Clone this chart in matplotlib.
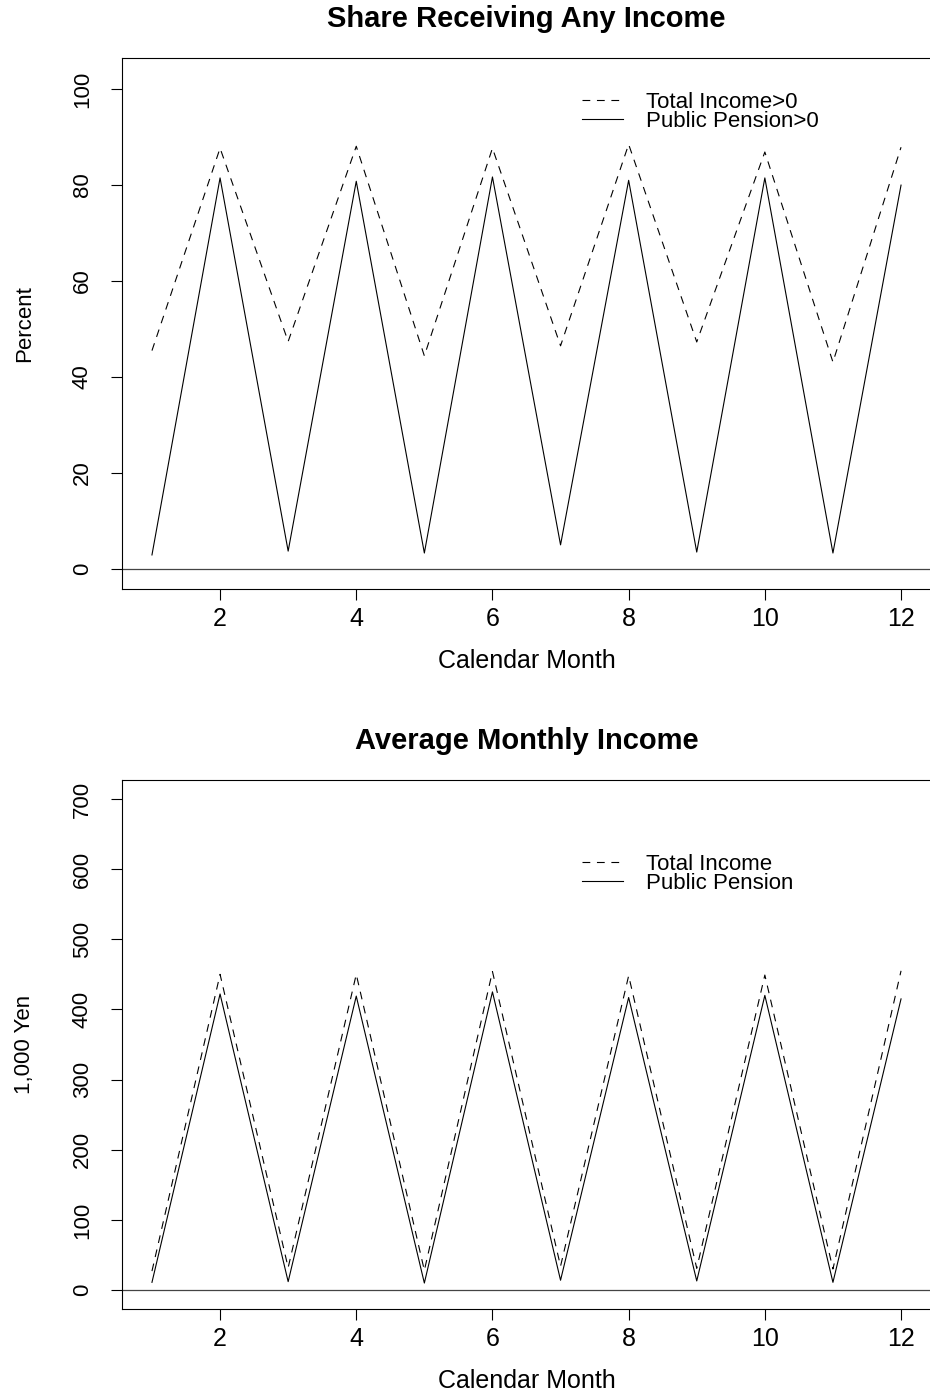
import numpy as np
import matplotlib.pyplot as plt

plt.rcParams['font.family'] = ['Liberation Sans', 'DejaVu Sans']

# Calendar months 1..12
months = np.arange(1, 13)

# Share receiving any income (percent)
share_total = [45.5, 87.7, 47.4, 88.1, 44.4, 87.7, 46.5, 88.5, 47.3, 86.9, 43.1, 87.9]
share_pension = [2.9, 81.5, 3.7, 80.8, 3.3, 81.7, 5.0, 81.0, 3.5, 81.5, 3.3, 80.0]

# Average monthly income (1,000 yen)
inc_total = [27, 450, 32, 450, 28, 454, 34, 448, 31, 449, 30, 455]
inc_pension = [11, 422, 12, 419, 10, 425, 14, 417, 13, 420, 11, 415]

fig = plt.figure(figsize=(9.3, 13.95), dpi=100)
W, H = 930, 1395

def make_axes(top_px, bot_px):
    left, right = 122 / W, 931 / W
    return fig.add_axes([left, 1 - bot_px / H, right - left, (bot_px - top_px) / H])

def style(ax, title, ylabel, yticks, ylim, labels, leg_y):
    ax.set_xlim(0.56, 12.44)
    ax.set_ylim(*ylim)
    ax.axhline(0, color='#444444', lw=0.9, zorder=1)
    ax.set_xticks([2, 4, 6, 8, 10, 12])
    ax.set_yticks(yticks)
    ax.set_yticklabels([str(v) for v in yticks], rotation=90, va='center')
    ax.tick_params(axis='x', direction='out', length=8, width=0.8, labelsize=18, pad=5)
    ax.tick_params(axis='y', direction='out', length=8, width=0.8, labelsize=16, pad=13)
    for s in ax.spines.values():
        s.set_linewidth(0.8)
    ax.set_title(title, fontsize=21, fontweight='bold', pad=22)
    ax.set_xlabel('Calendar Month', fontsize=18)
    ax.xaxis.set_label_coords(0.5, -0.113)
    ax.set_ylabel(ylabel, fontsize=16)
    ax.yaxis.set_label_coords(-0.108, 0.5)
    ax.legend(labels, loc='upper left', bbox_to_anchor=(0.557, leg_y), frameon=False,
              fontsize=16, handlelength=1.85, handletextpad=1.05, labelspacing=-0.1,
              borderaxespad=0)

ax1 = make_axes(58, 589)
ax1.plot(months, share_total, color='black', lw=0.8, linestyle=(0, (7, 6)))
ax1.plot(months, share_pension, color='black', lw=0.8)
style(ax1, 'Share Receiving Any Income', 'Percent', [0, 20, 40, 60, 80, 100],
      (-4.2, 106.5), ['Total Income>0', 'Public Pension>0'], 0.953)

ax2 = make_axes(780, 1309)
ax2.plot(months, inc_total, color='black', lw=0.8, linestyle=(0, (7, 6)))
ax2.plot(months, inc_pension, color='black', lw=0.8)
style(ax2, 'Average Monthly Income', '1,000 Yen', [0, 100, 200, 300, 400, 500, 600, 700],
      (-27, 727), ['Total Income', 'Public Pension'], 0.877)

fig.savefig('out.png', dpi=100)
